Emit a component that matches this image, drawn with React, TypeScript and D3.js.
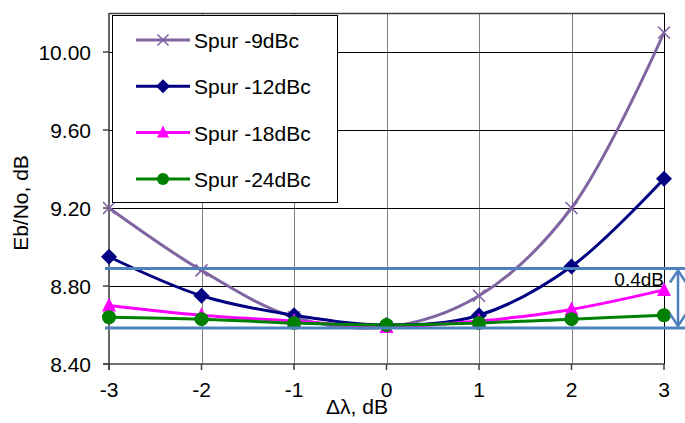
import React from "react";
import * as d3 from "d3";

const xValues = [-3, -2, -1, 0, 1, 2, 3];
const spur9 = [9.2, 8.88, 8.64, 8.59, 8.75, 9.2, 10.1];
const spur12 = [8.95, 8.75, 8.65, 8.6, 8.65, 8.9, 9.35];
const spur18 = [8.7, 8.65, 8.62, 8.59, 8.62, 8.68, 8.78];
const spur24 = [8.64, 8.63, 8.61, 8.6, 8.61, 8.63, 8.65];
const seriesNames = ["Spur -9dBc", "Spur -12dBc", "Spur -18dBc", "Spur -24dBc"];
const yTicks = [8.4, 8.8, 9.2, 9.6, 10.0];
const bandLevels = [8.89, 8.585];
const bandLabel = "0.4dB";

const W = 685;
const H = 423;
const FONT = "'Liberation Sans', Arial, sans-serif";

type Marker = "x" | "diamond" | "triangle" | "circle";

const series: { name: string; values: number[]; color: string; marker: Marker }[] = [
  { name: seriesNames[0], values: spur9, color: "#8064A2", marker: "x" },
  { name: seriesNames[1], values: spur12, color: "#000080", marker: "diamond" },
  { name: seriesNames[2], values: spur18, color: "#FF00FF", marker: "triangle" },
  { name: seriesNames[3], values: spur24, color: "#008000", marker: "circle" },
];

const crisp = (v: number) => Math.round(v) + 0.5;

function MarkerShape({ type, cx, cy, color, s }: { type: Marker; cx: number; cy: number; color: string; s: number }) {
  if (type === "x") {
    const h = s / 2;
    return (
      <g stroke={color} strokeWidth={1.6}>
        <line x1={cx - h} y1={cy - h} x2={cx + h} y2={cy + h} />
        <line x1={cx - h} y1={cy + h} x2={cx + h} y2={cy - h} />
      </g>
    );
  }
  if (type === "diamond") {
    const h = s / 2 + 1;
    return <path d={`M${cx},${cy - h}L${cx + h},${cy}L${cx},${cy + h}L${cx - h},${cy}Z`} fill={color} />;
  }
  if (type === "triangle") {
    const h = s / 2;
    return <path d={`M${cx},${cy - h - 1}L${cx + h},${cy + h - 1}L${cx - h},${cy + h - 1}Z`} fill={color} />;
  }
  return <circle cx={cx} cy={cy} r={s / 2} fill={color} />;
}

export default function App() {
  const x = d3.scaleLinear().domain([-3, 3]).range([109, 664]);
  const y = d3.scaleLinear().domain([8.4, 10.2]).range([364, 13]);
  const line = d3
    .line<number>()
    .x((_, i) => x(xValues[i]))
    .y((d) => y(d))
    .curve(d3.curveCatmullRom.alpha(0.5));

  const yTop = y(10.2);
  const yBot = y(8.4);
  const xL = x(-3);
  const xR = x(3);

  const bandTop = y(bandLevels[0]);
  const bandBottom = y(bandLevels[1]);
  const arrowX = 678;
  const blue = "#4F81BD";

  const legendX = 112;
  const legendY = 15;
  const legendW = 225;
  const legendH = 187;

  return (
    <svg
      width={W}
      height={H}
      style={{ position: "absolute", left: 0, top: 0, display: "block", background: "#fff" }}
      fontFamily={FONT}
    >
      {/* vertical gridlines */}
      {xValues.slice(1, -1).map((v) => (
        <line key={"vg" + v} x1={crisp(x(v))} x2={crisp(x(v))} y1={yTop} y2={yBot} stroke="#808080" strokeWidth={1} />
      ))}
      {/* horizontal gridlines */}
      {yTicks.slice(1).map((v) => (
        <line key={"hg" + v} x1={xL} x2={xR} y1={crisp(y(v))} y2={crisp(y(v))} stroke="#000" strokeWidth={1} />
      ))}
      {/* plot border */}
      <line x1={xL} x2={xR} y1={crisp(yTop)} y2={crisp(yTop)} stroke="#404040" strokeWidth={1.5} />
      <line x1={crisp(xR)} x2={crisp(xR)} y1={yTop} y2={yBot} stroke="#000" strokeWidth={1} />
      <line x1={xL} x2={xL} y1={yTop} y2={yBot + 6} stroke="#404040" strokeWidth={1.6} />
      <line x1={xL - 6} x2={xR} y1={yBot} y2={yBot} stroke="#404040" strokeWidth={1.6} />

      {/* y ticks */}
      {yTicks.map((v) => (
        <g key={"yt" + v}>
          <line x1={xL - 6} x2={xL} y1={y(v)} y2={y(v)} stroke="#404040" strokeWidth={1.5} />
          <text x={91} y={y(v) + 7.5} textAnchor="end" fontSize={21} fill="#000">
            {v.toFixed(2)}
          </text>
        </g>
      ))}
      {/* x ticks */}
      {xValues.map((v) => (
        <g key={"xt" + v}>
          <line x1={x(v)} x2={x(v)} y1={yBot} y2={yBot + 6} stroke="#404040" strokeWidth={1.5} />
          <text x={x(v)} y={397} textAnchor="middle" fontSize={21} fill="#000">
            {String(v).replace("\u2212", "-")}
          </text>
        </g>
      ))}

      {/* axis titles */}
      <text x={357} y={414} textAnchor="middle" fontSize={21} fill="#000">
        Δλ, dB
      </text>
      <text transform={`translate(28,203) rotate(-90)`} textAnchor="middle" fontSize={21} fill="#000">
        Eb/No, dB
      </text>

      {/* series */}
      {series.map((s) => (
        <path key={"l" + s.name} d={line(s.values) || ""} fill="none" stroke={s.color} strokeWidth={3} />
      ))}
      {series.map((s) => (
        <g key={"m" + s.name}>
          {s.values.map((v, i) => (
            <MarkerShape key={i} type={s.marker} cx={x(xValues[i])} cy={y(v)} color={s.color} s={s.marker === "x" ? 12 : 14} />
          ))}
        </g>
      ))}

      {/* band lines */}
      {bandLevels.map((v) => (
        <line key={"b" + v} x1={105} x2={685} y1={y(v)} y2={y(v)} stroke={blue} strokeWidth={3} />
      ))}
      {/* double arrow */}
      <g stroke={blue} strokeWidth={2.5} fill="none">
        <line x1={arrowX} x2={arrowX} y1={bandTop + 2} y2={bandBottom - 2} />
        <path d={`M${arrowX - 8},${bandTop + 14}L${arrowX},${bandTop + 2}L${arrowX + 8},${bandTop + 14}`} />
        <path d={`M${arrowX - 8},${bandBottom - 14}L${arrowX},${bandBottom - 2}L${arrowX + 8},${bandBottom - 14}`} />
      </g>
      <text x={664} y={286} textAnchor="end" fontSize={19} fill="#000">
        {bandLabel}
      </text>

      {/* legend */}
      <rect x={legendX + 0.5} y={legendY + 0.5} width={legendW} height={legendH} fill="#fff" stroke="#000" strokeWidth={1} />
      {series.map((s, i) => {
        const cy = 40 + i * 46.3;
        return (
          <g key={"lg" + s.name}>
            <line x1={136} x2={190} y1={cy} y2={cy} stroke={s.color} strokeWidth={3} />
            <MarkerShape type={s.marker} cx={163} cy={cy} color={s.color} s={s.marker === "x" ? 11 : 12} />
            <text x={194} y={cy + 8} fontSize={21} fill="#000">
              {s.name}
            </text>
          </g>
        );
      })}
    </svg>
  );
}
